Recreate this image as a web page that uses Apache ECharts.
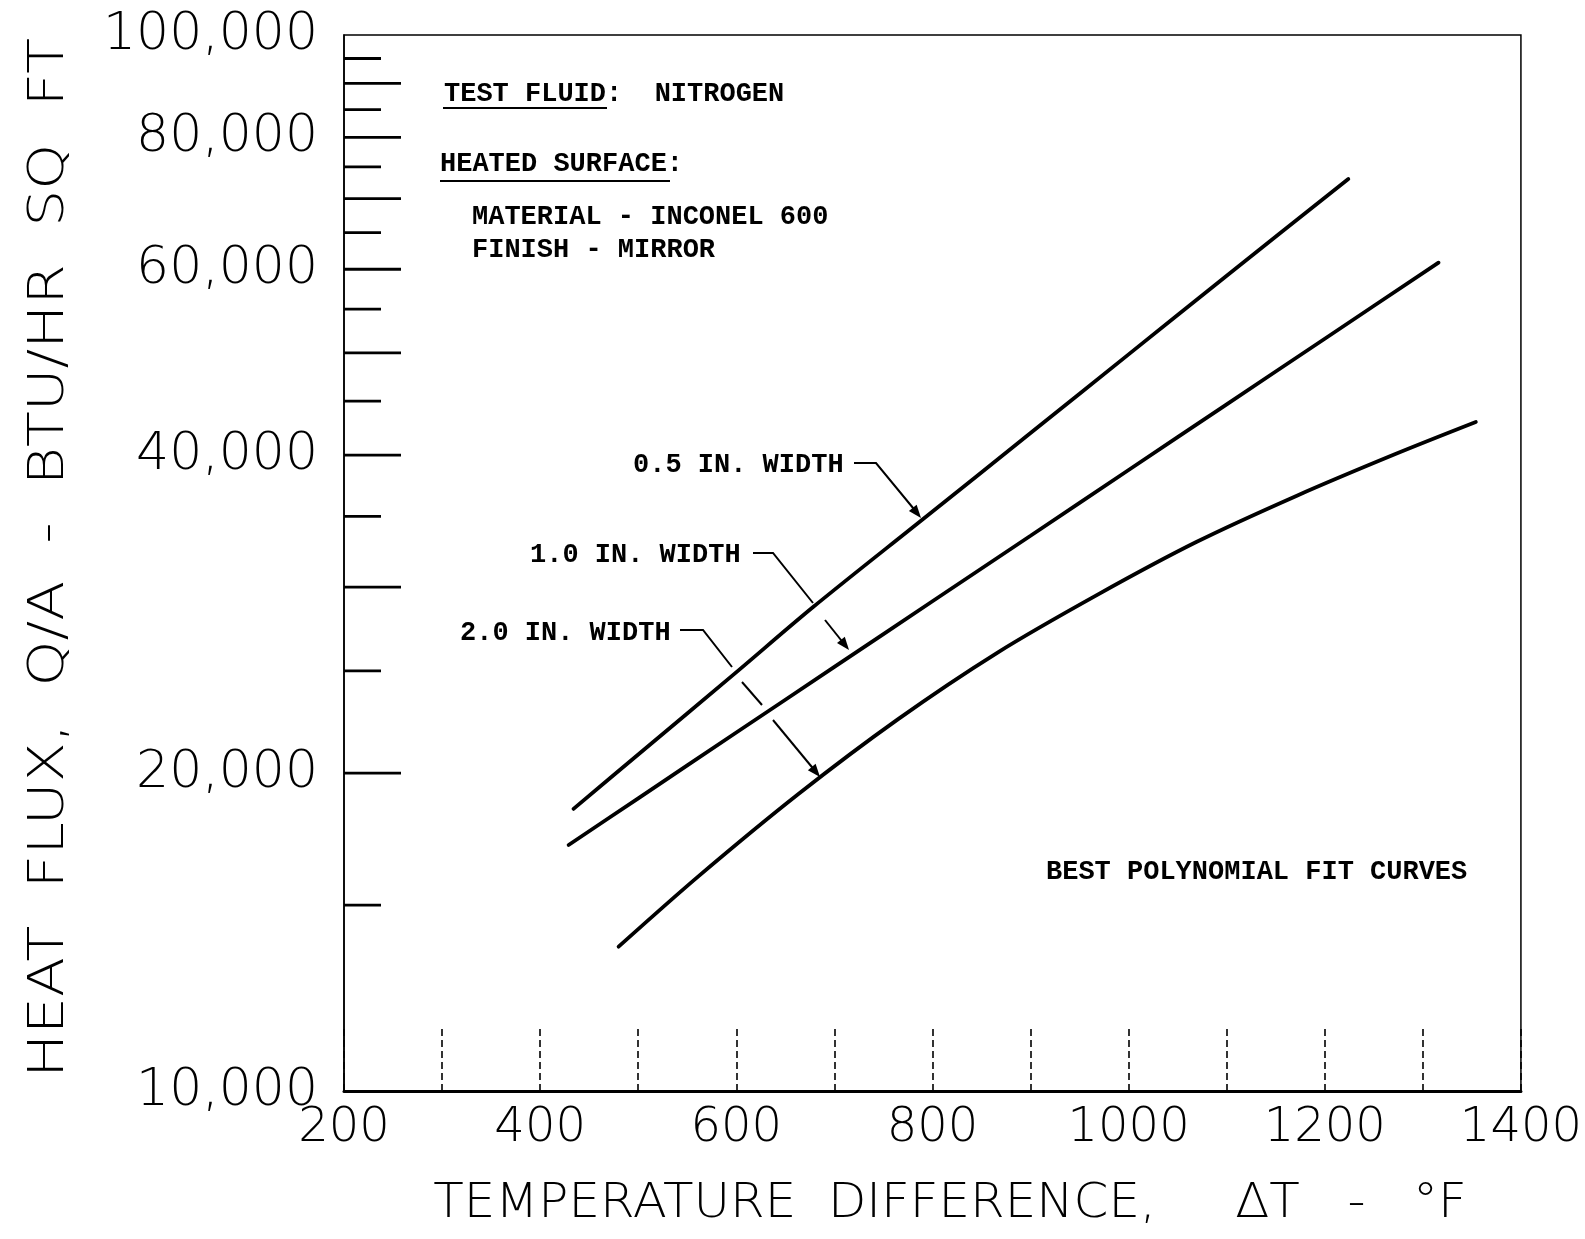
<!DOCTYPE html>
<html><head><meta charset="utf-8">
<script src="https://cdn.jsdelivr.net/npm/echarts@6/dist/echarts.min.js"></script>
<style>html,body{margin:0;padding:0;background:#fff}#c{width:1585px;height:1239px}</style>
</head><body><div id="c"></div>
<script>
// ---- data ----
const seriesNames = ['0.5 IN. WIDTH', '1.0 IN. WIDTH', '2.0 IN. WIDTH'];
const deltaT_05 = [434, 500, 598, 678, 787, 900, 1000, 1100, 1224];
const flux_05   = [18500, 20830, 24830, 28710, 34600, 41980, 49840, 59160, 73050];
const deltaT_10 = [429, 500, 600, 700, 800, 900, 1000, 1100, 1200, 1316];
const flux_10   = [17100, 18930, 21850, 25210, 29090, 33560, 38730, 44690, 51570, 60870];
const deltaT_20 = [480, 561, 663, 765, 866, 968, 1069, 1171, 1272, 1354];
const flux_20   = [13700, 15960, 19100, 22500, 26000, 29500, 33100, 36600, 40100, 43000];

const xLabelValues = [200, 400, 600, 800, 1000, 1200, 1400];
const yTickValues  = [15000, 20000, 25000, 30000, 35000, 40000, 45000, 50000, 55000, 60000, 65000, 70000, 75000, 80000, 85000, 90000, 95000];
const yLabelValues = [10000, 20000, 40000, 60000, 80000, 100000];
const yLabelTexts  = ['10,000', '20,000', '40,000', '60,000', '80,000', '100,000'];

const xTitle = 'TEMPERATURE  DIFFERENCE,     \u0394T   -   \u00B0F';
const yTitle = 'HEAT  FLUX,  Q/A  -  BTU/HR  SQ  FT';
const notes = ['TEST FLUID:  NITROGEN', 'HEATED SURFACE:', 'MATERIAL - INCONEL 600', 'FINISH - MIRROR', 'BEST POLYNOMIAL FIT CURVES'];

// ---- chart ----
const chart = echarts.init(document.getElementById('c'), null, {renderer: 'canvas'});
const zip = (a, b) => a.map((v, i) => [v, b[i]]);
const LABEL_FONT = 'DejaVu Sans';
const TYPE_FONT = 'bold 27px "Liberation Mono", "Courier New", monospace';

function curve(name, xs, ys) {
  return {
    name, type: 'line', data: zip(xs, ys), showSymbol: false, smooth: 0.3,
    lineStyle: {color: '#000', width: 3.8, cap: 'round'}, z: 5, silent: true
  };
}

function arrowHead(tip, from) {
  const dx = tip[0] - from[0], dy = tip[1] - from[1];
  const L = Math.hypot(dx, dy), ux = dx / L, uy = dy / L;
  const bx = tip[0] - 13 * ux, by = tip[1] - 13 * uy;
  return {type: 'polygon', shape: {points: [tip, [bx - 5 * uy, by + 5 * ux], [bx + 5 * uy, by - 5 * ux]]},
          style: {fill: '#000'}};
}
function seg(p) { return {type: 'polyline', shape: {points: p}, style: {stroke: '#000', lineWidth: 2, fill: null}}; }
function txt(x, y, s) { return {type: 'text', x, y, style: {text: s, font: TYPE_FONT, fill: '#000', verticalAlign: 'middle', textVerticalAlign: 'middle'}}; }

const graphics = [
  txt(444, 94, notes[0]),
  {type: 'line', shape: {x1: 443, y1: 108, x2: 607, y2: 108}, style: {stroke: '#000', lineWidth: 2}},
  txt(440, 164, notes[1]),
  {type: 'line', shape: {x1: 440, y1: 181, x2: 670, y2: 181}, style: {stroke: '#000', lineWidth: 2}},
  txt(472, 217, notes[2]),
  txt(472, 250, notes[3]),
  txt(1046, 872, notes[4]),
  txt(633, 465, seriesNames[0]),
  txt(530, 555, seriesNames[1]),
  txt(460, 633, seriesNames[2]),
  seg([[854, 463], [876, 463], [918, 514]]),
  arrowHead([921, 518], [876, 463]),
  seg([[753, 553], [773, 553], [813, 603]]),
  seg([[825, 620], [845, 645]]),
  arrowHead([849, 650], [825, 620]),
  seg([[680, 630], [703, 630], [732, 667]]),
  seg([[742, 682], [762, 705]]),
  seg([[773, 720], [816, 772]]),
  arrowHead([820, 777], [773, 720]),
  // axis titles
  {type: 'text', x: 950, y: 1205, scaleX: 1.04, style: {text: xTitle, fill: '#000', fontFamily: LABEL_FONT, fontWeight: 200, fontSize: 48,
    align: 'center', verticalAlign: 'middle', textAlign: 'center', textVerticalAlign: 'middle'}},
  {type: 'text', x: 50, y: 558, rotation: Math.PI / 2, scaleX: 1.17,
    style: {text: yTitle, fill: '#000', fontFamily: LABEL_FONT, fontWeight: 200, fontSize: 50,
    align: 'center', verticalAlign: 'middle', textAlign: 'center', textVerticalAlign: 'middle'}}
];

const option = {
  backgroundColor: '#fff',
  animation: false,
  grid: {left: 344, right: 59, top: 35, bottom: 148, show: true, borderColor: '#000', borderWidth: 1.5, backgroundColor: 'transparent'},
  xAxis: {
    type: 'value', min: 200, max: 1400, interval: 100,
    axisLine: {show: true, lineStyle: {color: '#000', width: 3}},
    axisTick: {show: true, inside: true, length: 62, lineStyle: {color: '#000', width: 1.6, type: [7, 4]}},
    axisLabel: {formatter: v => xLabelValues.includes(v) ? String(v) : '', fontFamily: LABEL_FONT, fontWeight: 200, fontSize: 48, color: '#000', margin: 14},
    splitLine: {show: false}
  },
  yAxis: {
    type: 'log', logBase: 10, min: 10000, max: 100000,
    axisLine: {show: true, lineStyle: {color: '#000', width: 1.5}},
    axisTick: {show: false}, axisLabel: {show: false}, splitLine: {show: false}, minorTick: {show: false}
  },
  series: [
    curve(seriesNames[0], deltaT_05, flux_05),
    curve(seriesNames[1], deltaT_10, flux_10),
    curve(seriesNames[2], deltaT_20, flux_20),
    {
      type: 'custom', name: 'yTicks', silent: true, clip: false, z: 3,
      data: yTickValues.map(v => [200, v]),
      renderItem: (params, api) => {
        const v = api.value(1); const p = api.coord([200, v]);
        const len = (v % 10000 === 0) ? 57 : 37;
        return {type: 'line', shape: {x1: p[0], y1: p[1], x2: p[0] + len, y2: p[1]}, style: {stroke: '#000', lineWidth: 2.8}};
      }
    },
    {
      type: 'custom', name: 'yLabels', silent: true, clip: false, z: 3,
      data: yLabelValues.map((v, i) => [200, v, i]),
      renderItem: (params, api) => {
        const p = api.coord([200, api.value(1)]);
        return {type: 'text', x: p[0] - 26, y: p[1], style: {
          text: yLabelTexts[api.value(2)], fill: '#000', fontFamily: LABEL_FONT, fontWeight: 200, fontSize: 52,
          align: 'right', verticalAlign: 'middle', textAlign: 'right', textVerticalAlign: 'middle'}};
      }
    }
  ],
  graphic: graphics
};
chart.setOption(option);
</script></body></html>
